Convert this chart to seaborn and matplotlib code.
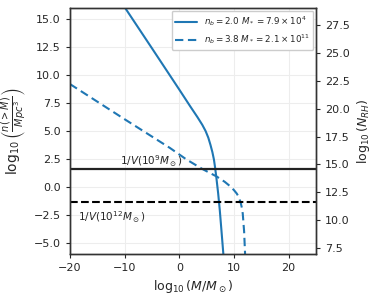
import numpy as np
import pandas as pd
import matplotlib
matplotlib.use("Agg")
import matplotlib.pyplot as plt
import seaborn as sns

# curve values (log10 M, log10 n(>M))
solid_x = [-10.5, -5.0, 0.0, 2.0, 3.3, 4.2, 4.8, 5.3, 5.7, 6.05, 6.33, 6.55,
           6.75, 7.1, 7.4, 7.7, 8.05, 8.2]
solid_y = [16.45, 12.4, 8.7, 7.2, 6.25, 5.55, 5.0, 4.4, 3.75, 3.1, 2.44, 1.7,
           0.93, -0.57, -2.08, -3.88, -6.0, -7.0]
dashed_x = [-20.0, -10.0, -1.75, 1.3, 4.2, 6.8, 8.3, 9.3, 10.0, 10.5, 10.8,
            11.2, 11.45, 11.6, 11.85, 12.0, 12.1]
dashed_y = [9.2, 6.05, 3.49, 2.45, 1.6, 0.93, 0.45, 0.05, -0.3, -0.6, -0.85,
            -1.38, -1.9, -2.4, -4.0, -5.7, -7.0]

labels = [r"$n_b = 2.0\ M_* = 7.9\times10^{4}$",
          r"$n_b = 3.8\ M_* = 2.1\times10^{11}$"]

# 1/V levels
v_levels = [1.62, -1.38]
v_labels = [r"$1/V(10^{9}M_\odot)$", r"$1/V(10^{12}M_\odot)$"]

right_offset = 13.0

sns.set_style("whitegrid", {"axes.edgecolor": "0.2", "grid.color": "0.93",
                            "xtick.bottom": True, "ytick.left": True})

fig = plt.figure(figsize=(3.74, 2.99), dpi=100)
ax = fig.add_axes([0.187, 0.151, 0.658, 0.822])

df = pd.concat([
    pd.DataFrame({"x": solid_x, "y": solid_y, "model": labels[0]}),
    pd.DataFrame({"x": dashed_x, "y": dashed_y, "model": labels[1]}),
])
sns.lineplot(data=df, x="x", y="y", style="model", color="#1f77b4",
             linewidth=1.5, sort=False, ax=ax, dashes=[(None, None), (4, 2.2)])

ax.axhline(v_levels[0], color="#222222", lw=1.6)
ax.axhline(v_levels[1], color="black", lw=1.5, ls="--")
ax.text(-10.8, 1.95, v_labels[0], fontsize=7.5)
ax.text(-18.6, -3.1, v_labels[1], fontsize=7.5)

ax.set_xlim(-20, 25)
ax.set_ylim(-6, 16)
ax.set_xticks([-20, -10, 0, 10, 20])
ax.set_yticks([-5, -2.5, 0, 2.5, 5, 7.5, 10, 12.5, 15])
ax.set_yticklabels(["−5.0", "−2.5", "0.0", "2.5", "5.0", "7.5", "10.0", "12.5", "15.0"])
ax.tick_params(labelsize=8, length=3, width=0.8)
ax.set_xlabel(r"$\log_{10}(M/M_\odot)$", fontsize=9)
ax.set_ylabel(r"$\log_{10}\left(\frac{n(>M)}{Mpc^3}\right)$", fontsize=10)

leg = ax.legend(loc="upper right", fontsize=6.3, handlelength=2.5,
                framealpha=1, borderaxespad=0.3)

ax2 = ax.twinx()
ax2.set_ylim(-6 + right_offset, 16 + right_offset)
ax2.set_yticks([7.5, 10, 12.5, 15, 17.5, 20, 22.5, 25, 27.5])
ax2.grid(False)
ax2.tick_params(labelsize=8, length=3, width=0.8)
ax2.set_ylabel(r"$\log_{10}(N_{RH})$", fontsize=9)

for a in (ax, ax2):
    for s in a.spines.values():
        s.set_linewidth(1.0)

fig.savefig("out.png", dpi=100)
